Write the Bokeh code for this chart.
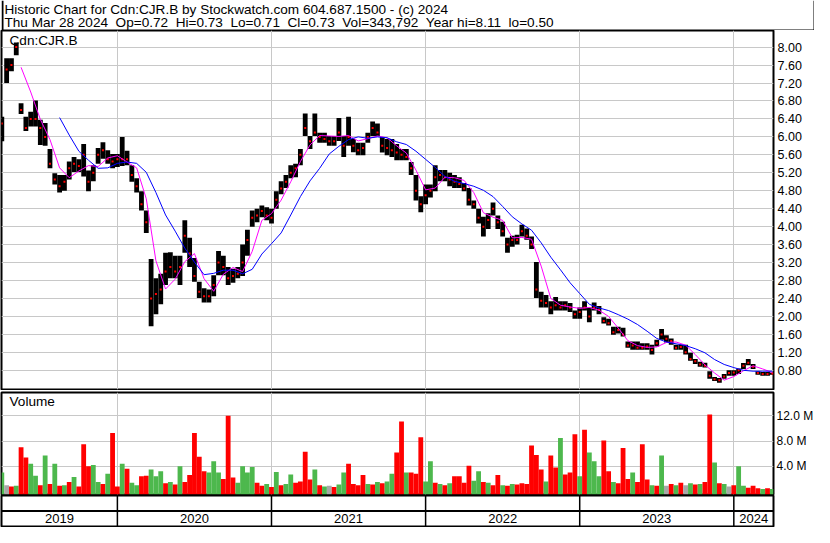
import numpy as np
from bokeh.plotting import figure
from bokeh.layouts import column
from bokeh.models import Range1d, FixedTicker, NumeralTickFormatter, Grid, Span
from bokeh.core.properties import value
from bokeh.embed import file_html
from bokeh.resources import INLINE

FONT = "Liberation Sans"
NB = "\u00a0"

TITLE_LINE_1 = "Historic Chart for Cdn:CJR.B by Stockwatch.com 604.687.1500 - (c) 2024"
TITLE_LINE_2 = (f"Thu Mar 28 2024 {NB}Op=0.72 {NB}Hi=0.73 {NB}Lo=0.71 {NB}Cl=0.73 "
                f"{NB}Vol=343,792 {NB}Year hi=8.11 {NB}lo=0.50")
SYMBOL = "Cdn:CJR.B"
VOLUME_TITLE = "Volume"

# bars: decimal-year time of first bar and spacing
first_bar = 2019.25
bar_step = 1 / 32

high = [6.45, 7.75, 7.75, 8.10, 6.75, 6.45, 6.56, 6.81, 6.38, 6.31,
        5.73, 5.19, 5.15, 5.15, 5.45, 5.55, 5.50, 5.84, 5.25, 5.37,
        5.75, 5.88, 5.70, 5.62, 5.62, 6.00, 5.69, 5.37, 5.08, 4.79,
        4.36, 3.28, 2.85, 2.95, 3.42, 3.43, 3.35, 3.35, 4.14, 3.75,
        3.30, 2.77, 2.63, 2.60, 2.92, 3.46, 3.35, 3.10, 3.06, 3.10,
        3.60, 3.93, 4.36, 4.40, 4.47, 4.43, 4.40, 4.79, 5.01, 5.15,
        5.37, 5.40, 5.73, 6.52, 6.02, 6.52, 6.09, 6.09, 6.02, 6.02,
        6.42, 6.02, 6.45, 5.95, 5.87, 5.87, 6.09, 6.34, 6.30, 6.00,
        5.95, 5.95, 5.84, 5.73, 5.73, 5.44, 5.15, 4.68, 4.94, 4.94,
        5.37, 5.26, 5.26, 5.20, 5.15, 5.10, 4.97, 4.86, 4.58, 4.40,
        4.22, 4.30, 4.54, 4.25, 4.11, 3.75, 3.80, 3.82, 4.04, 3.96,
        3.78, 3.21, 2.55, 2.48, 2.34, 2.43, 2.34, 2.34, 2.30, 2.13,
        2.20, 2.34, 2.20, 2.31, 2.23, 1.98, 1.95, 1.77, 1.77, 1.75,
        1.44, 1.44, 1.44, 1.40, 1.40, 1.37, 1.48, 1.72, 1.58, 1.51,
        1.37, 1.37, 1.37, 1.19, 1.05, 0.99, 0.97, 0.78, 0.65, 0.63,
        0.72, 0.80, 0.80, 0.84, 0.96, 1.05, 0.94, 0.78, 0.76, 0.76,
        0.75]

low = [5.90, 7.20, 7.46, 7.82, 6.51, 6.13, 6.23, 6.23, 5.82, 5.80,
       5.30, 4.94, 4.76, 4.80, 5.05, 5.22, 5.22, 5.12, 4.79, 5.01,
       5.40, 5.51, 5.40, 5.30, 5.33, 5.35, 5.37, 5.00, 4.76, 4.36,
       3.86, 1.78, 2.05, 2.27, 2.70, 2.85, 2.85, 2.70, 3.42, 3.10,
       2.77, 2.41, 2.31, 2.31, 2.45, 2.92, 2.92, 2.70, 2.75, 2.85,
       2.90, 3.35, 4.00, 4.10, 4.21, 4.14, 4.07, 4.40, 4.72, 4.86,
       5.08, 5.10, 5.37, 6.02, 5.73, 6.02, 5.87, 5.87, 5.80, 5.80,
       5.91, 5.55, 5.80, 5.66, 5.59, 5.59, 5.87, 6.02, 6.02, 5.65,
       5.59, 5.55, 5.48, 5.48, 5.48, 5.15, 4.58, 4.32, 4.50, 4.65,
       4.79, 5.01, 5.01, 4.90, 4.86, 4.86, 4.79, 4.47, 4.40, 4.07,
       3.78, 3.95, 4.25, 3.95, 3.78, 3.42, 3.55, 3.60, 3.78, 3.71,
       3.50, 2.41, 2.20, 2.20, 2.05, 2.13, 2.13, 2.13, 2.10, 1.95,
       1.95, 2.13, 1.87, 2.13, 2.05, 1.84, 1.80, 1.59, 1.62, 1.55,
       1.30, 1.26, 1.26, 1.26, 1.26, 1.15, 1.33, 1.48, 1.42, 1.37,
       1.26, 1.26, 1.15, 1.01, 0.94, 0.88, 0.86, 0.61, 0.56, 0.52,
       0.61, 0.68, 0.68, 0.72, 0.83, 0.91, 0.83, 0.70, 0.68, 0.68,
       0.70]

close = [6.30, 7.50, 7.60, 8.00, 6.60, 6.20, 6.40, 6.40, 6.20, 6.00,
         5.40, 5.05, 4.90, 5.00, 5.30, 5.40, 5.35, 5.60, 5.00, 5.20,
         5.60, 5.70, 5.50, 5.45, 5.50, 5.50, 5.50, 5.15, 4.90, 4.50,
         4.10, 2.40, 2.50, 2.60, 3.00, 3.10, 3.00, 3.10, 3.80, 3.40,
         2.90, 2.55, 2.45, 2.45, 2.70, 3.20, 3.10, 2.85, 2.90, 2.95,
         3.20, 3.70, 4.20, 4.25, 4.35, 4.25, 4.20, 4.60, 4.85, 5.00,
         5.20, 5.30, 5.60, 6.20, 5.90, 6.10, 6.00, 5.95, 5.90, 5.90,
         6.10, 5.80, 6.00, 5.80, 5.70, 5.75, 6.00, 6.20, 6.10, 5.80,
         5.75, 5.70, 5.65, 5.60, 5.55, 5.30, 4.80, 4.50, 4.70, 4.80,
         5.10, 5.15, 5.10, 5.05, 5.00, 4.95, 4.85, 4.60, 4.50, 4.20,
         4.00, 4.15, 4.40, 4.10, 3.90, 3.60, 3.70, 3.70, 3.90, 3.80,
         3.60, 2.60, 2.35, 2.30, 2.20, 2.25, 2.20, 2.25, 2.20, 2.05,
         2.10, 2.20, 2.00, 2.20, 2.15, 1.90, 1.85, 1.65, 1.70, 1.60,
         1.35, 1.35, 1.30, 1.30, 1.33, 1.25, 1.40, 1.60, 1.50, 1.45,
         1.30, 1.32, 1.20, 1.05, 1.00, 0.93, 0.90, 0.68, 0.60, 0.58,
         0.66, 0.74, 0.75, 0.80, 0.90, 0.97, 0.88, 0.74, 0.72, 0.72,
         0.73]

# moving averages, read every second bar
ma_step = 2
ma_fast_first = 4
ma_fast = [7.55, 7.00, 6.39, 5.94, 5.31, 5.09, 5.24, 5.36, 5.34, 5.53,
           5.58, 5.44, 5.31, 4.62, 3.24, 2.61, 2.83, 3.22, 3.40, 2.84,
           2.56, 2.94, 3.09, 3.00, 3.45, 4.14, 4.29, 4.59, 5.00, 5.45,
           5.82, 6.03, 6.02, 6.01, 6.03, 5.91, 5.96, 6.02, 5.98, 5.80,
           5.64, 5.26, 4.82, 4.86, 5.10, 5.09, 5.03, 4.76, 4.31, 4.21,
           4.14, 3.75, 3.76, 3.72, 3.12, 2.40, 2.25, 2.21, 2.18, 2.20,
           2.14, 2.00, 1.74, 1.46, 1.35, 1.31, 1.32, 1.42, 1.43, 1.36,
           1.15, 0.92, 0.74, 0.58, 0.66, 0.79, 0.90, 0.83, 0.75]
ma_slow_first = 12
ma_slow = [6.43, 6.04, 5.68, 5.48, 5.30, 5.31, 5.41, 5.44, 5.41, 5.21,
           4.76, 4.26, 3.90, 3.52, 3.21, 2.93, 2.96, 3.03, 3.03, 2.95,
           3.05, 3.39, 3.62, 3.86, 4.26, 4.67, 5.02, 5.30, 5.62, 5.79,
           5.94, 6.00, 5.97, 6.00, 5.98, 5.89, 5.83, 5.68, 5.50, 5.32,
           5.12, 5.01, 4.96, 4.90, 4.81, 4.67, 4.45, 4.22, 4.06, 3.92,
           3.64, 3.32, 3.04, 2.75, 2.51, 2.27, 2.19, 2.13, 2.04, 1.94,
           1.82, 1.67, 1.51, 1.43, 1.39, 1.35, 1.28, 1.19, 1.04, 0.93,
           0.86, 0.80, 0.78, 0.78, 0.78]

# volume in millions of shares, r = down, g = up, n = unchanged
volume = [3.0, 1.0, 0.8, 0.9, 7.0, 5.4, 4.4, 2.5, 1.0, 5.7,
          1.2, 4.4, 0.9, 1.0, 1.5, 2.3, 0.8, 7.5, 4.0, 4.2,
          1.5, 1.2, 2.8, 9.3, 0.8, 4.4, 3.6, 1.4, 1.0, 2.4,
          2.5, 3.5, 2.4, 3.2, 1.3, 1.5, 1.1, 4.0, 1.5, 2.6,
          9.3, 5.5, 3.2, 3.0, 4.8, 3.0, 2.0, 12.0, 2.2, 1.4,
          4.0, 3.0, 3.9, 1.4, 0.9, 1.2, 0.7, 3.1, 1.0, 1.2,
          2.7, 1.4, 1.6, 6.3, 1.9, 3.5, 1.0, 0.8, 0.9, 0.7,
          1.1, 3.0, 4.4, 1.2, 1.0, 2.6, 1.2, 1.1, 1.5, 1.3,
          1.6, 2.8, 6.2, 11.1, 3.0, 3.0, 2.8, 8.6, 1.6, 4.8,
          1.4, 1.2, 1.0, 1.3, 2.4, 2.4, 1.4, 4.1, 1.7, 3.2,
          1.5, 1.4, 1.0, 2.6, 1.0, 0.9, 1.2, 1.1, 1.3, 1.2,
          7.3, 5.8, 3.5, 1.6, 5.7, 3.8, 8.5, 2.7, 3.0, 9.1,
          2.4, 9.8, 6.2, 4.8, 2.4, 8.1, 3.2, 1.5, 1.3, 6.9,
          2.0, 3.0, 1.5, 7.5, 1.9, 1.0, 0.9, 5.7, 0.9, 1.2,
          1.0, 1.4, 1.0, 1.3, 1.1, 1.2, 1.5, 12.2, 4.6, 1.3,
          1.2, 0.8, 1.0, 4.0, 0.9, 0.6, 0.9, 0.5, 0.4, 0.5,
          0.4]
vol_dir = list("gnrgrrggrg"
               "rgrgrgrrrg"
               "grgrrgrggr"
               "rgggrgrgrr"
               "rrrgggrrrg"
               "gggrrgrgrg"
               "grrrrgrgnr"
               "ggrrrrgrgr"
               "ggrrgrrrgg"
               "rgrgrrrrgg"
               "rgrrgrgrrr"
               "rrrgrrgrrr"
               "grgggrrgrr"
               "rgrrrgrgnr"
               "grngrgrrgr"
               "gnrggrrrgr"
               "g")

price_ticks = [0.80, 1.20, 1.60, 2.00, 2.40, 2.80, 3.20, 3.60, 4.00, 4.40,
               4.80, 5.20, 5.60, 6.00, 6.40, 6.80, 7.20, 7.60, 8.00]
volume_ticks = [4, 8, 12]
volume_tick_labels = ["4.0 M", "8.0 M", "12.0 M"]
year_starts = [2020, 2021, 2022, 2023, 2024]
year_labels = ["2019", "2020", "2021", "2022", "2023", "2024"]

# ---------------------------------------------------------------- layout
X_START, X_END = 2019.248, 2024.2575
W = 814
FW = 772
GRID = "#C8C8C8"
UP, DOWN, FLAT = "#4DB84D", "#FF0000", "#A8A8A8"

t = first_bar + bar_step * np.arange(len(high))
t_fast = t[ma_fast_first::ma_step][:len(ma_fast)]
t_slow = t[ma_slow_first::ma_step][:len(ma_slow)]
vol_colors = [{"r": DOWN, "g": UP, "n": FLAT}[d] for d in vol_dir]

xr = Range1d(X_START, X_END)


def panel(frame_h, yr, top, bottom, right_axis=True):
    p = figure(frame_width=FW, frame_height=frame_h, x_range=xr, y_range=yr,
               output_backend="svg", toolbar_location=None,
               min_border_left=1, min_border_right=W - FW - 1,
               min_border_top=top, min_border_bottom=bottom,
               x_axis_location=None,
               y_axis_location="right" if right_axis else None)
    p.grid.visible = False
    p.outline_line_color = "black"
    p.outline_line_width = 2
    p.outline_line_alpha = 1.0
    p.background_fill_color = "white"
    p.border_fill_color = "white"
    if right_axis:
        ax = p.yaxis[0]
        ax.axis_line_color = None
        ax.major_tick_line_color = None
        ax.minor_tick_line_color = None
        ax.major_tick_out = 0
        ax.major_tick_in = 0
        ax.major_label_standoff = 4
        ax.major_label_text_font = FONT
        ax.major_label_text_font_size = "12.5px"
        ax.major_label_text_color = "black"
    return p


# header
h = figure(frame_width=W, frame_height=30, x_range=Range1d(0, W), y_range=Range1d(30, 0),
           output_backend="svg", toolbar_location=None,
           min_border_left=0, min_border_right=0, min_border_top=0, min_border_bottom=0,
           x_axis_location=None, y_axis_location=None)
h.grid.visible = False
h.outline_line_color = None
h.background_fill_color = "white"
h.border_fill_color = "white"
h.text(x=[3, 3], y=[8.7, 22.3], text=[TITLE_LINE_1, TITLE_LINE_2],
       text_font=value(FONT), text_font_size="13.6px", text_color="black",
       text_baseline="middle", text_align="left")
h.add_layout(Span(location=1, dimension="height", line_color="black", line_width=2))
h.add_layout(Span(location=W - 1, dimension="height", line_color="black", line_width=2))
h.add_layout(Span(location=29.5, dimension="width", line_color="black", line_width=1))

# price panel
P_LO, P_HI = 0.372, 8.37
p = panel(359, Range1d(P_LO, P_HI), 0, 1)
p.yaxis[0].ticker = FixedTicker(ticks=price_ticks)
p.yaxis[0].formatter = NumeralTickFormatter(format="0.00")
p.add_layout(Grid(dimension=0, ticker=FixedTicker(ticks=year_starts),
                  grid_line_color=GRID, grid_line_width=1))
p.add_layout(Grid(dimension=1, ticker=FixedTicker(ticks=price_ticks),
                  grid_line_color=GRID, grid_line_width=1))
p.vbar(x=t, top=high, bottom=low, width=bar_step,
       fill_color="black", line_color=None)
p.scatter(x=t, y=close, marker="square", size=2, fill_color=DOWN, line_color=None)
p.line(t_fast, ma_fast, line_color="#FF00FF", line_width=1)
p.line(t_slow, ma_slow, line_color="#0000FF", line_width=1)
ppx = (X_END - X_START) / FW
ppu = (P_HI - P_LO) / 359
p.text(x=[X_START + 8 * ppx], y=[P_HI - 10 * ppu], text=[SYMBOL],
       text_font=value(FONT), text_font_size="13.6px", text_color="black",
       text_baseline="middle", text_align="left")

# volume panel
V_LO, V_HI = -0.48, 15.71
v = panel(102, Range1d(V_LO, V_HI), 2, 1)
v.yaxis[0].ticker = FixedTicker(ticks=volume_ticks)
v.yaxis[0].major_label_overrides = dict(zip(volume_ticks, volume_tick_labels))
v.yaxis[0].major_label_standoff = 3
v.yaxis[0].major_label_text_font_size = "12px"
v.add_layout(Grid(dimension=0, ticker=FixedTicker(ticks=year_starts),
                  grid_line_color=GRID, grid_line_width=1))
v.add_layout(Grid(dimension=1, ticker=FixedTicker(ticks=volume_ticks),
                  grid_line_color=GRID, grid_line_width=1))
v.vbar(x=t, top=volume, bottom=V_LO - 1, width=bar_step,
       fill_color=vol_colors, line_color=None)
vpu = (V_HI - V_LO) / 102
v.text(x=[X_START + 8 * ppx], y=[V_HI - 9 * vpu], text=[VOLUME_TITLE],
       text_font=value(FONT), text_font_size="13.6px", text_color="black",
       text_baseline="middle", text_align="left")

# time axis band
tf = panel(31, Range1d(31, 0), 0, 1, right_axis=False)
tf.add_layout(Span(location=15.5, dimension="width", line_color="black", line_width=2))
tf.segment(x0=year_starts, y0=[0] * len(year_starts), x1=year_starts,
           y1=[31] * len(year_starts), line_color="black", line_width=1.5)
edges = [X_START] + year_starts + [X_END]
centers = [(a + b) / 2 for a, b in zip(edges[:-1], edges[1:])]
tf.text(x=centers, y=[23.3] * len(centers), text=year_labels,
        text_font=value(FONT), text_font_size="13px", text_color="black",
        text_baseline="middle", text_align="center")

layout = column(h, p, v, tf, spacing=0)
open("out.html", "w").write(file_html(layout, INLINE))
